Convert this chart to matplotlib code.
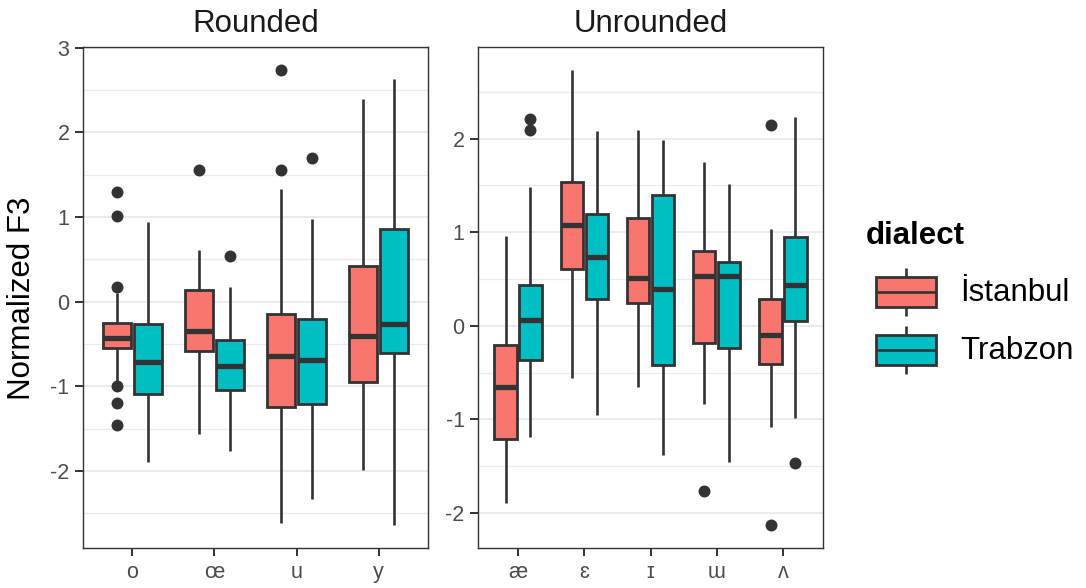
import matplotlib
matplotlib.use("Agg")
import matplotlib.pyplot as plt
from matplotlib.patches import Rectangle
from matplotlib.ticker import MultipleLocator

plt.rcParams['font.family'] = ['Liberation Sans', 'DejaVu Sans']

# ---- data -------------------------------------------------------------
dialects = ['İstanbul', 'Trabzon']
dialect_colors = ['#F8766D', '#00BFC4']
facet_titles = ['Rounded', 'Unrounded']

rounded_vowels = ['o', 'œ', 'u', 'y']
unrounded_vowels = ['æ', 'ɛ', 'ɪ', 'ɯ', 'ʌ']

# box summaries: lower whisker, Q1, median, Q3, upper whisker
rounded_ist_whislo = [-0.95, -1.56, -2.61, -1.99]
rounded_ist_q1 = [-0.55, -0.58, -1.245, -0.95]
rounded_ist_med = [-0.43, -0.34, -0.64, -0.40]
rounded_ist_q3 = [-0.25, 0.14, -0.14, 0.425]
rounded_ist_whishi = [0.10, 0.61, 1.33, 2.39]
rounded_ist_out = [[1.30, 1.01, 0.17, -1.00, -1.20, -1.46], [1.56], [2.74, 1.56], []]

rounded_trb_whislo = [-1.89, -1.76, -2.33, -2.64]
rounded_trb_q1 = [-1.09, -1.04, -1.21, -0.61]
rounded_trb_med = [-0.71, -0.755, -0.69, -0.26]
rounded_trb_q3 = [-0.26, -0.45, -0.20, 0.86]
rounded_trb_whishi = [0.94, 0.17, 0.98, 2.63]
rounded_trb_out = [[], [0.54], [1.70], []]

unrounded_ist_whislo = [-1.89, -0.56, -0.65, -0.83, -1.085]
unrounded_ist_q1 = [-1.21, 0.61, 0.24, -0.18, -0.41]
unrounded_ist_med = [-0.65, 1.08, 0.51, 0.53, -0.096]
unrounded_ist_q3 = [-0.20, 1.535, 1.15, 0.795, 0.285]
unrounded_ist_whishi = [0.955, 2.735, 2.09, 1.75, 1.03]
unrounded_ist_out = [[], [], [], [-1.76], [2.14, -2.13]]

unrounded_trb_whislo = [-1.19, -0.95, -1.38, -1.45, -0.98]
unrounded_trb_q1 = [-0.37, 0.285, -0.42, -0.24, 0.055]
unrounded_trb_med = [0.06, 0.73, 0.395, 0.53, 0.44]
unrounded_trb_q3 = [0.435, 1.19, 1.40, 0.68, 0.945]
unrounded_trb_whishi = [1.48, 2.08, 1.99, 1.51, 2.23]
unrounded_trb_out = [[2.21, 2.09], [], [], [], [-1.47]]

# ---- styling ------------------------------------------------------------
LINE = '#333333'
TICKTXT = '#4D4D4D'
GRID = '#EBEBEB'
W = 1086
H = 588


def make_stats(whislo, q1, med, q3, whishi, out):
    return [dict(whislo=a, q1=b, med=c, q3=d, whishi=e, fliers=f)
            for a, b, c, d, e, f in zip(whislo, q1, med, q3, whishi, out)]


def draw_facet(ax, title, cats, groups):
    n = len(cats)
    dodge = 0.75 / 2
    width = dodge * 0.9
    all_vals = []
    for g, (stats, color) in enumerate(zip(groups, dialect_colors)):
        offset = (g - 0.5) * dodge
        pos = [i + 1 + offset for i in range(n)]
        ax.bxp(stats, positions=pos, widths=width, patch_artist=True,
               showcaps=False, manage_ticks=False,
               boxprops=dict(facecolor=color, edgecolor=LINE, linewidth=2.0),
               whiskerprops=dict(color=LINE, linewidth=1.9, solid_capstyle='butt'),
               medianprops=dict(color=LINE, linewidth=3.8, solid_capstyle='butt'),
               flierprops=dict(marker='o', markerfacecolor=LINE,
                               markeredgecolor=LINE, markersize=8.6,
                               markeredgewidth=0))
        for s in stats:
            all_vals += [s['whislo'], s['whishi']] + list(s['fliers'])
    lo, hi = min(all_vals), max(all_vals)
    pad = 0.05 * (hi - lo)
    ax.set_ylim(lo - pad, hi + pad)
    ax.set_xlim(0.4, n + 0.6)
    ax.set_xticks(range(1, n + 1))
    ax.set_xticklabels(cats)
    ax.yaxis.set_major_locator(MultipleLocator(1))
    ax.yaxis.set_minor_locator(MultipleLocator(0.5))
    ax.yaxis.set_major_formatter(matplotlib.ticker.FuncFormatter(
        lambda v, p: f'{v:.0f}'.replace('−', '-')))
    ax.set_axisbelow(True)
    ax.grid(True, which='major', axis='y', color=GRID, linewidth=1.4)
    ax.grid(True, which='minor', axis='y', color=GRID, linewidth=0.9)
    ax.tick_params(which='major', length=5.8, width=1.4, color=LINE,
                   labelcolor=TICKTXT, labelsize=15.5, pad=4)
    ax.tick_params(which='minor', length=0)
    for sp in ax.spines.values():
        sp.set_color(LINE)
        sp.set_linewidth(1.0)
    ax.text(0.5, 1 + 14.5 / 501, title, transform=ax.transAxes,
            ha='center', va='baseline', fontsize=22.5, color='#1A1A1A')


fig = plt.figure(figsize=(W / 100, H / 100), dpi=100)
ax1 = fig.add_axes([83 / W, 40 / H, 345 / W, 501 / H])
ax2 = fig.add_axes([478.3 / W, 40 / H, 344.4 / W, 501 / H])

draw_facet(ax1, facet_titles[0], rounded_vowels, [
    make_stats(rounded_ist_whislo, rounded_ist_q1, rounded_ist_med,
               rounded_ist_q3, rounded_ist_whishi, rounded_ist_out),
    make_stats(rounded_trb_whislo, rounded_trb_q1, rounded_trb_med,
               rounded_trb_q3, rounded_trb_whishi, rounded_trb_out)])
draw_facet(ax2, facet_titles[1], unrounded_vowels, [
    make_stats(unrounded_ist_whislo, unrounded_ist_q1, unrounded_ist_med,
               unrounded_ist_q3, unrounded_ist_whishi, unrounded_ist_out),
    make_stats(unrounded_trb_whislo, unrounded_trb_q1, unrounded_trb_med,
               unrounded_trb_q3, unrounded_trb_whishi, unrounded_trb_out)])

fig.text(22 / W, 1 - 298 / H, 'Normalized F3', rotation=90, ha='center',
         va='center', fontsize=22.5, color='black')

# ---- legend -------------------------------------------------------------
lax = fig.add_axes([0, 0, 1, 1])
lax.set_xlim(0, W)
lax.set_ylim(H, 0)
lax.axis('off')
lax.text(866, 244, 'dialect', fontsize=22.5, fontweight='bold',
         ha='left', va='baseline', color='black')
for k, (name, color) in enumerate(zip(dialects, dialect_colors)):
    top = 277 + k * 58
    bottom = top + 30
    mid = (top + bottom) / 2
    cx = 906
    lax.plot([cx, cx], [top - 9, top], color=LINE, lw=1.9, solid_capstyle='butt')
    lax.plot([cx, cx], [bottom, bottom + 9], color=LINE, lw=1.9, solid_capstyle='butt')
    lax.add_patch(Rectangle((876, top), 60, 30, facecolor=color,
                            edgecolor=LINE, linewidth=2.0))
    lax.plot([876, 936], [mid, mid], color=LINE, lw=1.9, solid_capstyle='butt')
    lax.text(960, mid + 1, name, fontsize=22.5, ha='left', va='center',
             color='black')

fig.savefig('out.png', dpi=100, facecolor='white')
